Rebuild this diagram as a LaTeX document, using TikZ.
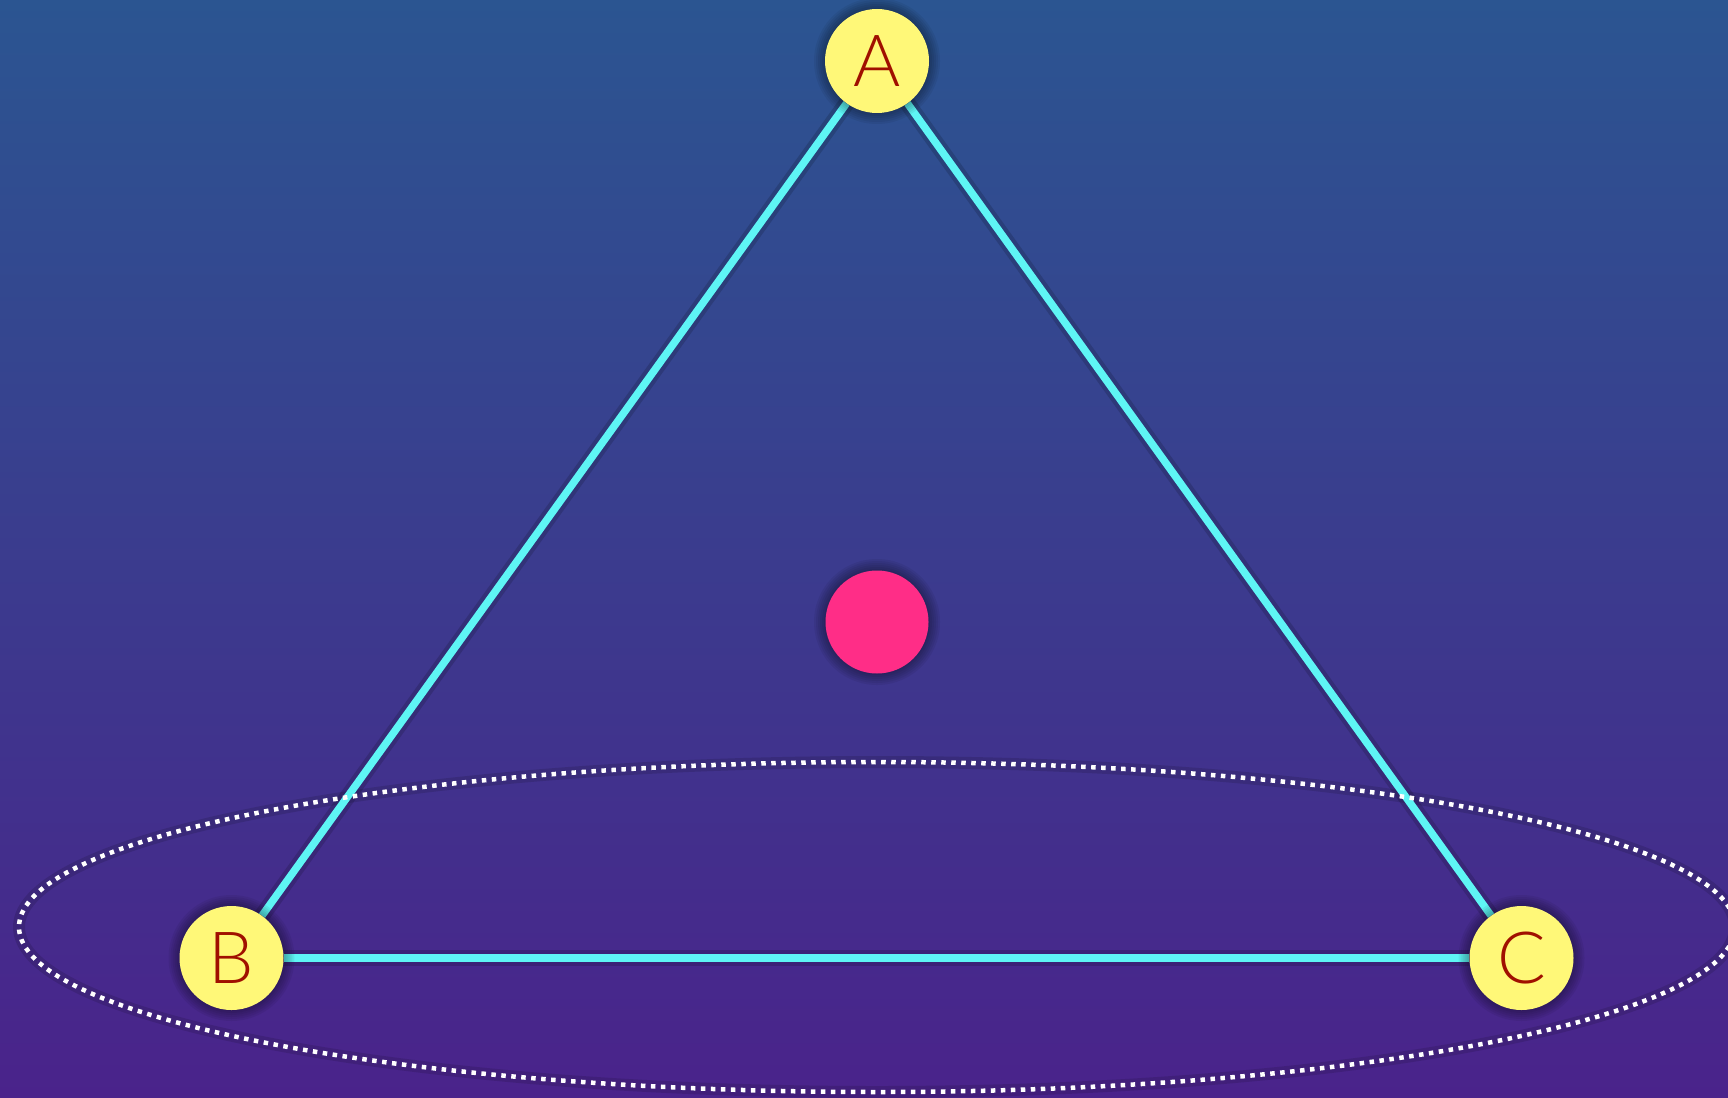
\documentclass[tikz,border=0pt]{standalone}
\usepackage{fontspec}
\setmainfont{Lato Light}
\usetikzlibrary{shapes.geometric}
\pgfdeclarelayer{back}
\pgfdeclarelayer{mid}
\pgfsetlayers{back,mid,main}
\definecolor{bgtop}{RGB}{43,85,145}
\definecolor{bgbot}{RGB}{74,35,139}
\definecolor{vfill}{RGB}{255,248,120}
\definecolor{vtext}{RGB}{160,16,0}
\definecolor{edgecol}{RGB}{94,245,245}
\definecolor{dotcol}{RGB}{255,45,135}
\tikzset{
  vtx/.style={circle, minimum size=104pt, inner sep=0pt, fill=vfill, text=vtext,
    font=\fontsize{72}{72}\selectfont},
  pinkdot/.style={circle, minimum size=103pt, inner sep=0pt, fill=dotcol},
  ring/.style={ellipse, minimum width=1716pt, minimum height=330pt, inner sep=0pt,
    draw=white, line width=4.5pt, dash pattern=on 4.5pt off 5.5pt},
  ringglow/.style={ellipse, minimum width=1716pt, minimum height=330pt, inner sep=0pt,
    draw=black, draw opacity=0.12, line width=12pt},
  edge/.style={draw=edgecol, line width=7.5pt},
  edgeglow/.style={draw=black, draw opacity=0.15, line width=16pt},
  halo/.style={fill=black, fill opacity=0.06},
}
\begin{document}
\begin{tikzpicture}[x=1pt,y=-1pt]
\useasboundingbox (0,0) rectangle (1728,1097);
\begin{pgfonlayer}{back}
\fill[top color=bgtop, bottom color=bgbot, shading angle=0] (0,0) rectangle (1728,1097);
\end{pgfonlayer}
\clip (0,0) rectangle (1728,1097);
\node[vtx] (A) at (877,61) {A};
\node[vtx] (B) at (231.5,958) {B};
\node[vtx] (C) at (1521.5,958) {C};
\node[pinkdot] (P) at (877,622) {};
\begin{pgfonlayer}{mid}
\node[ringglow] (EG) at (877,927) {};
\foreach \a/\b in {A/B,A/C,B/C} {\draw[edgeglow] (\a) -- (\b);}
\foreach \a/\b in {A/B,A/C,B/C} {\draw[edge] (\a) -- (\b);}
\node[ring] (E) at (877,927) {};
\foreach \n in {A,B,C,P} {
  \foreach \r in {53,55,57,59,61,63} {\fill[halo] (\n.center) circle (\r pt);}
}
\end{pgfonlayer}
\end{tikzpicture}
\end{document}
